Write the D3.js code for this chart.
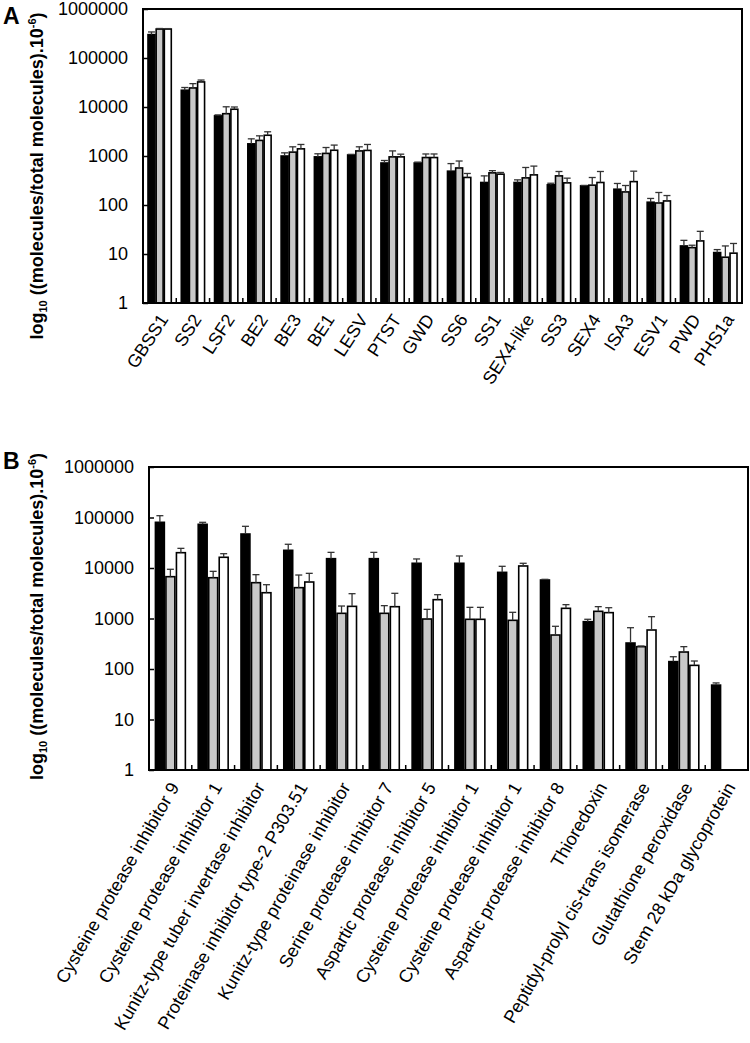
<!DOCTYPE html>
<html>
<head>
<meta charset="utf-8">
<script src="https://cdn.jsdelivr.net/npm/d3@7"></script>
<style>
  body { margin: 0; background: #fff; }
  svg { display: block; font-family: "Liberation Sans", Arial, sans-serif; }
</style>
</head>
<body>
<svg id="chart" width="750" height="1043"></svg>
<script>
// ---------- Data ----------
const categoriesA = ["GBSS1","SS2","LSF2","BE2","BE3","BE1","LESV","PTST","GWD","SS6","SS1","SEX4-like","SS3","SEX4","ISA3","ESV1","PWD","PHS1a"];
const blackA    = [300000, 22000, 6600, 1770, 1000, 960, 1050, 720, 720, 490, 288, 288, 258, 246, 210, 114, 14.6, 10.7];
const blackErrA = [40000, 3000, 300, 470, 160, 150, 30, 90, 30, 210, 105, 38, 20, 5, 65, 22, 4.4, 1.6];
const greyA     = [390000, 24500, 7300, 2080, 1200, 1130, 1270, 960, 930, 570, 453, 358, 393, 254, 185, 110, 13.5, 8.6];
const greyErrA  = [10000, 5500, 2800, 500, 340, 360, 270, 310, 170, 220, 50, 225, 90, 110, 65, 70, 1.6, 6];
const whiteA    = [390000, 32500, 9000, 2650, 1400, 1310, 1300, 960, 930, 365, 426, 412, 283, 288, 300, 121, 18.5, 10.4];
const whiteErrA = [8000, 3000, 1000, 470, 320, 360, 420, 130, 170, 75, 35, 210, 70, 195, 190, 35, 10.5, 6];

const categoriesB = ["Cysteine protease inhibitor 9","Cysteine protease inhibitor 1","Kunitz-type tuber invertase inhibitor","Proteinase inhibitor type-2 P303.51","Kunitz-type proteinase inhibitor","Serine protease inhibitor 7","Aspartic protease inhibitor 5","Cysteine protease inhibitor 1 ","Cysteine protease inhibitor 1  ","Aspartic protease inhibitor 8","Thioredoxin","Peptidyl-prolyl cis-trans isomerase","Glutathione peroxidase","Stem 28 kDa glycoprotein"];
const blackB    = [80300, 73300, 47100, 22400, 15300, 15300, 12400, 12400, 8200, 5780, 865, 327, 140, 48];
const blackErrB = [28300, 7000, 19800, 7100, 5100, 5100, 2700, 4900, 2600, 180, 100, 330, 35, 5];
const greyB     = [6730, 6420, 5120, 4080, 1266, 1266, 977, 964, 920, 471, 1387, 277, 217, null];
const greyErrB  = [2700, 2170, 2260, 3180, 500, 530, 540, 700, 406, 230, 330, 8, 60, null];
const whiteB    = [20100, 16300, 3240, 5280, 1740, 1713, 2360, 963, 10970, 1590, 1306, 592, 118, null];
const whiteErrB = [4400, 2900, 1430, 2560, 1360, 1440, 600, 700, 1430, 290, 330, 494, 26, null];

const yTickValues = [1, 10, 100, 1000, 10000, 100000, 1000000];
const seriesFills = ["#000000", "#c8c8c8", "#ffffff"];

// ---------- Drawing ----------
const svg = d3.select("#chart");

function drawPanel(cfg) {
  const { cats, series, errs, left, right, top, bottom, letter, letterY,
          labelAngle, labelDx, labelDy, yLabelX } = cfg;
  const g = svg.append("g");

  const y = d3.scaleLog().domain([1, 1e6]).range([bottom, top]);
  const x0 = d3.scaleBand().domain(d3.range(cats.length)).range([left, right])
    .paddingInner(0.3).paddingOuter(0.15);
  const x1 = d3.scaleBand().domain([0, 1, 2]).range([0, x0.bandwidth()]).paddingInner(0.15);
  const step = x0.step();

  // bars
  series.forEach((vals, s) => {
    g.append("g").selectAll("rect").data(vals.map((v, i) => ({ v, i })).filter(d => d.v != null))
      .join("rect")
      .attr("x", d => x0(d.i) + x1(s))
      .attr("width", x1.bandwidth())
      .attr("y", d => y(d.v))
      .attr("height", d => bottom - y(d.v))
      .attr("fill", seriesFills[s])
      .attr("stroke", "#000")
      .attr("stroke-width", 1.6);
  });

  // error bars
  series.forEach((vals, s) => {
    const eg = g.append("g").attr("stroke", "#333").attr("stroke-width", 1.3);
    vals.forEach((v, i) => {
      const e = errs[s][i];
      if (v == null || e == null) return;
      const cx = x0(i) + x1(s) + x1.bandwidth() / 2;
      const yt = y(v + e);
      eg.append("line").attr("x1", cx).attr("x2", cx).attr("y1", y(v)).attr("y2", yt);
      eg.append("line").attr("x1", cx - 3.5).attr("x2", cx + 3.5).attr("y1", yt).attr("y2", yt);
    });
  });

  // y axis (inward ticks)
  const yAxis = d3.axisLeft(y).tickValues(yTickValues).tickFormat(d3.format("d")).tickSize(-5).tickSizeOuter(0);
  const ya = g.append("g").attr("transform", `translate(${left},0)`).call(yAxis);
  ya.select(".domain").remove();
  ya.selectAll("line").attr("stroke", "#000").attr("stroke-width", 1.5);
  ya.selectAll("text").attr("font-size", 18).attr("fill", "#000").attr("x", -15);

  // frame
  g.append("rect").attr("x", left).attr("y", top).attr("width", right - left).attr("height", bottom - top)
    .attr("fill", "none").attr("stroke", "#000").attr("stroke-width", 2);

  // category boundary ticks (inward)
  g.append("g").selectAll("line").data(d3.range(1, cats.length)).join("line")
    .attr("x1", i => left + i * step).attr("x2", i => left + i * step)
    .attr("y1", bottom).attr("y2", bottom - 5)
    .attr("stroke", "#000").attr("stroke-width", 1.5);

  // category labels
  g.append("g").selectAll("text").data(cats).join("text")
    .attr("transform", (d, i) => `translate(${x0(i) + x0.bandwidth() / 2 + labelDx},${bottom + labelDy}) rotate(${labelAngle})`)
    .attr("text-anchor", "end")
    .attr("dy", "0.35em")
    .attr("font-size", 18)
    .attr("fill", "#000")
    .text(d => d.trim());

  // y label
  const yl = g.append("text")
    .attr("transform", `translate(${yLabelX},${(top + bottom) / 2 + cfg.yLabelShift}) rotate(-90)`)
    .attr("text-anchor", "middle")
    .attr("font-size", 18)
    .attr("font-weight", "bold")
    .attr("fill", "#000");
  yl.append("tspan").text("log");
  yl.append("tspan").attr("font-size", 11).attr("dy", 4).text("10");
  yl.append("tspan").attr("dy", -4).text(" ((molecules/total molecules).10");
  yl.append("tspan").attr("font-size", 11).attr("dy", -7).text("-6");
  yl.append("tspan").attr("dy", 7).text(")");

  // panel letter
  g.append("text").attr("x", 3).attr("y", letterY).attr("font-size", 23).attr("font-weight", "bold")
    .attr("fill", "#000").text(letter);
}

drawPanel({
  cats: categoriesA,
  series: [blackA, greyA, whiteA],
  errs: [blackErrA, greyErrA, whiteErrA],
  left: 143, right: 742, top: 9, bottom: 303,
  letter: "A", letterY: 24,
  labelAngle: -57, labelDx: 4, labelDy: 13,
  yLabelX: 43, yLabelShift: 20
});

drawPanel({
  cats: categoriesB,
  series: [blackB, greyB, whiteB],
  errs: [blackErrB, greyErrB, whiteErrB],
  left: 149, right: 748, top: 467, bottom: 770,
  letter: "B", letterY: 469,
  labelAngle: -60, labelDx: 4, labelDy: 14,
  yLabelX: 43, yLabelShift: -2
});
</script>
</body>
</html>
